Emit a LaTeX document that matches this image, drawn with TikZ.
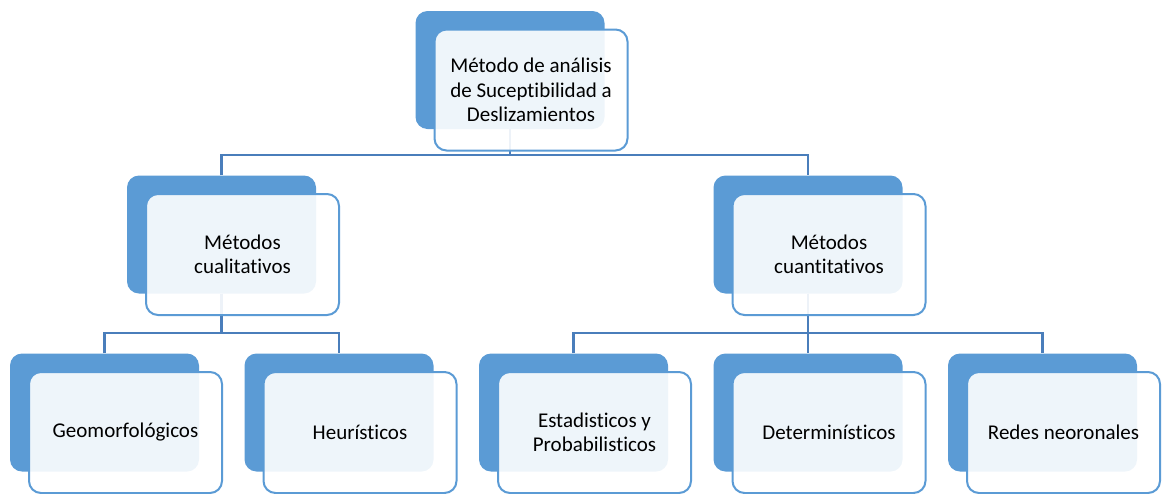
\documentclass[tikz,border=0pt]{standalone}
\usepackage{fontspec}
\setmainfont{Carlito}[Ligatures={NoCommon}]
\usepackage{xcolor}
\usepackage{tikz}
\usetikzlibrary{positioning, calc}
\definecolor{cajaazul}{RGB}{91,155,213}
\definecolor{lineaazul}{RGB}{74,126,187}

\begin{document}
\begin{tikzpicture}[x=1pt, y=-1pt,
    fondo/.style={rectangle, rounded corners=12pt, fill=cajaazul, minimum width=189pt, minimum height=118pt, inner sep=0pt},
    caja/.style={rectangle, rounded corners=12pt, draw=cajaazul, line width=2pt, fill=white, fill opacity=0.9, text opacity=1, minimum width=193pt, minimum height=121pt, inner sep=0pt, align=center, font=\fontsize{21}{24.5}\selectfont},
    conector/.style={draw=lineaazul, line width=2.4pt}]
    \useasboundingbox (0,0) rectangle (1162,493);
    % cajas de fondo
    \node[fondo] (b0) at (510,70) {};
    \node[fondo] (b1) at (221.5,234.5) {};
    \node[fondo] (b2) at (808,234.5) {};
    \node[fondo] (g1) at (104.5,412.5) {};
    \node[fondo] (g2) at (339,412.5) {};
    \node[fondo] (g3) at (573.5,412.5) {};
    \node[fondo] (g4) at (808,412.5) {};
    \node[fondo] (g5) at (1042.5,412.5) {};
    % conectores
    \coordinate (j0) at (510,155);
    \coordinate (j1) at (221.5,333);
    \coordinate (j2) at (808,333);
    \draw[conector] (b0.south) -- (j0);
    \draw[conector] (b1.north) |- (j0) -| (b2.north);
    \draw[conector] (b1.south) -- (j1);
    \draw[conector] (g1.north) |- (j1) -| (g2.north);
    \draw[conector] (b2.south) -- (j2);
    \draw[conector] (g3.north) |- (j2) -| (g5.north);
    \draw[conector] (j2) -- (g4.north);
    % cajas de texto
    \node[caja] (n0) at ([shift={(21,20)}]b0.center) {Método de análisis\\de Suceptibilidad a\\Deslizamientos};
    \node[caja] (n1) at ([shift={(21,20)}]b1.center) {Métodos\\cualitativos};
    \node[caja] (n2) at ([shift={(21,20)}]b2.center) {Métodos\\cuantitativos};
    \node[caja] (m1) at ([shift={(21,20)}]g1.center) {Geomorfológicos};
    \node[caja] (m2) at ([shift={(21,20)}]g2.center) {Heurísticos};
    \node[caja] (m3) at ([shift={(21,20)}]g3.center) {Estadisticos y\\Probabilisticos};
    \node[caja] (m4) at ([shift={(21,20)}]g4.center) {Determinísticos};
    \node[caja] (m5) at ([shift={(21,20)}]g5.center) {Redes neoronales};
\end{tikzpicture}
\end{document}
